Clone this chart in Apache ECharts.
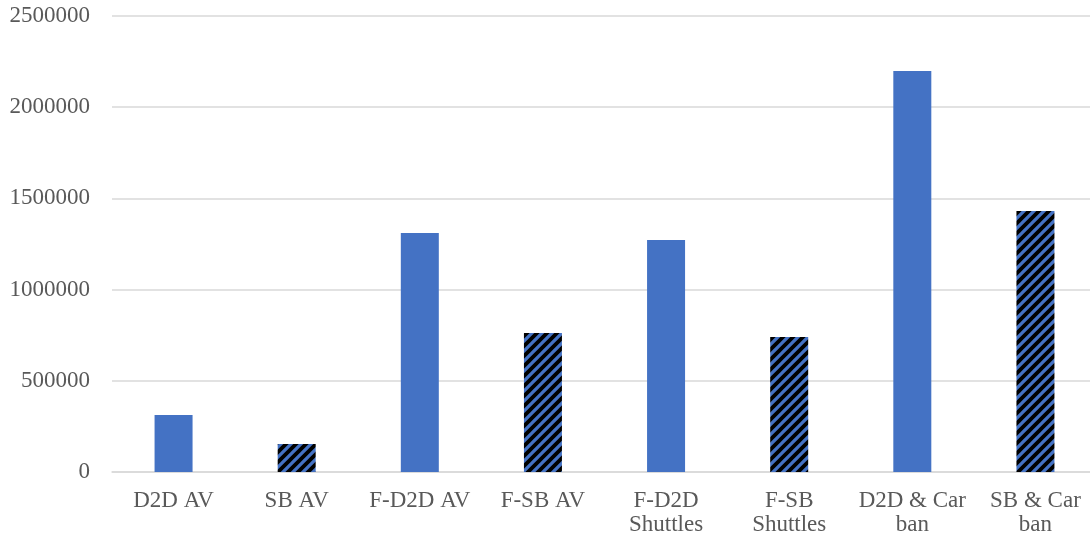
<!DOCTYPE html>
<html>
<head>
<meta charset="utf-8">
<script src="https://cdn.jsdelivr.net/npm/echarts@6/dist/echarts.min.js"></script>
<style>
html,body{margin:0;padding:0;background:#fff;overflow:hidden;width:1090px;height:537px;}
#chart{width:1097px;height:537px;}
</style>
</head>
<body>
<div id="chart"></div>
<script>
var categories = ['D2D AV', 'SB AV', 'F-D2D AV', 'F-SB AV', 'F-D2D\nShuttles', 'F-SB\nShuttles', 'D2D & Car\nban', 'SB & Car\nban'];
var values = [313000, 153000, 1310000, 762000, 1272000, 740000, 2198000, 1431000];
var hatched = [false, true, false, true, false, true, false, true];
var yTicks = [0, 500000, 1000000, 1500000, 2000000, 2500000];

var BLUE = '#4472C4';
function makePattern() {
  var s = 10;
  var c = document.createElement('canvas');
  c.width = s; c.height = s;
  var g = c.getContext('2d');
  g.fillStyle = BLUE;
  g.fillRect(0, 0, s, s);
  g.strokeStyle = '#000';
  g.lineWidth = 3.8;
  g.lineCap = 'square';
  g.beginPath();
  g.moveTo(-2, s + 2); g.lineTo(s + 2, -2);
  g.moveTo(-2, 2); g.lineTo(2, -2);
  g.moveTo(s - 2, s + 2); g.lineTo(s + 2, s - 2);
  g.stroke();
  return c;
}
var pattern = { image: makePattern(), repeat: 'repeat' };

var seriesData = values.map(function (v, i) {
  return { value: v, itemStyle: { color: hatched[i] ? pattern : BLUE } };
});

var chart = echarts.init(document.getElementById('chart'));
var font = '"Liberation Serif", "Times New Roman", serif';
chart.setOption({
  animation: false,
  grid: { left: 112, right: 0, top: 16, bottom: 65 },
  xAxis: {
    type: 'category',
    data: categories,
    axisLine: { lineStyle: { color: '#d9d9d9', width: 1.5 } },
    axisTick: { show: false },
    axisLabel: { color: '#595959', fontFamily: font, fontSize: 23, lineHeight: 24, margin: 17, interval: 0 }
  },
  yAxis: {
    type: 'value',
    min: yTicks[0],
    max: yTicks[yTicks.length - 1],
    interval: yTicks[1] - yTicks[0],
    axisLine: { show: false },
    axisTick: { show: false },
    splitLine: { lineStyle: { color: '#d9d9d9', width: 1.5 } },
    axisLabel: { color: '#595959', fontFamily: font, fontSize: 23, margin: 22, formatter: function (v) { return String(v); } }
  },
  series: [{
    type: 'bar',
    data: seriesData,
    barWidth: 38
  }]
});
</script>
</body>
</html>
